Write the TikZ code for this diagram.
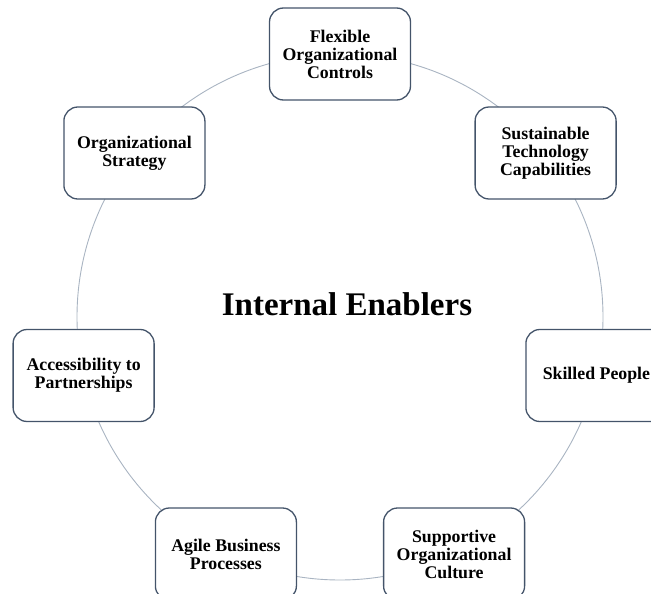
\documentclass[tikz,border=0pt]{standalone}
\usepackage{fontspec}
\setmainfont{Liberation Serif}
\definecolor{boxline}{HTML}{44546A}
\definecolor{ringline}{HTML}{A9B4C2}
\begin{document}
\begin{tikzpicture}[x=1pt,y=-1pt,
  enabler/.style={draw=boxline, line width=1.3pt, rounded corners=14pt, fill=white,
    minimum width=141pt, minimum height=92pt, align=center, inner sep=2pt,
    font=\bfseries\fontsize{17.8}{18}\selectfont},
  ring/.style={draw=ringline, line width=0.9pt},
  title/.style={font=\bfseries\fontsize{33}{36}\selectfont}]
\useasboundingbox (0,0) rectangle (651,594);
\clip (0,0) rectangle (651,594);
\coordinate (c) at (340,317);
\draw[ring] (c) circle[radius=263];
\node[enabler] (n1) at (340,54) {Flexible\\Organizational\\Controls};
\node[enabler] (n2) at (545.6,153) {Sustainable\\Technology\\Capabilities};
\node[enabler] (n3) at (596.4,375.5) {Skilled People};
\node[enabler] (n4) at (454.1,554) {Supportive\\Organizational\\Culture};
\node[enabler] (n5) at (225.9,554) {Agile Business\\Processes};
\node[enabler] (n6) at (83.6,375.5) {Accessibility to\\Partnerships};
\node[enabler] (n7) at (134.4,153) {Organizational\\Strategy};
\node[title, anchor=base] (t) at (347,315) {Internal Enablers};
\end{tikzpicture}
\end{document}
